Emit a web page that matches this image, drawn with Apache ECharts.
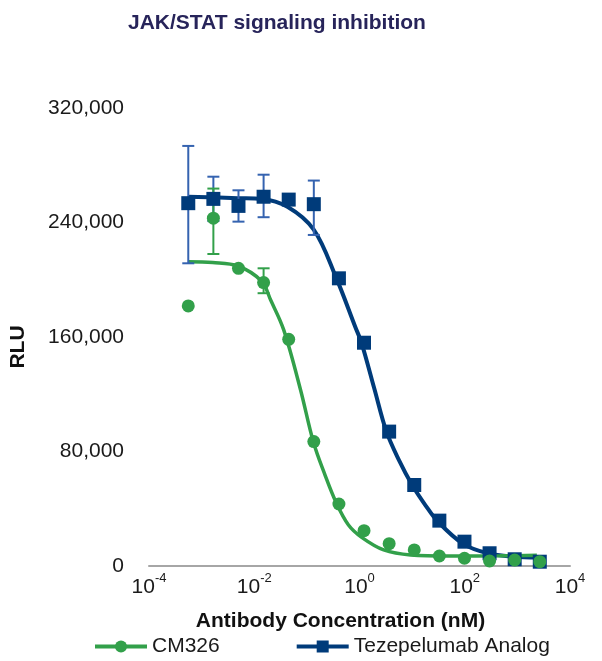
<!DOCTYPE html>
<html>
<head>
<meta charset="utf-8">
<script src="https://cdn.jsdelivr.net/npm/echarts@6/dist/echarts.min.js"></script>
<style>
html,body{margin:0;padding:0;background:#fff;}
#chart{width:602px;height:661px;}
</style>
</head>
<body>
<div id="chart"></div>
<script>
// ---- data ----
const concentrations = [0.0005575, 0.001672, 0.005017, 0.01505, 0.04516, 0.1355, 0.4064, 1.219, 3.658, 10.97, 32.92, 98.77, 296.3, 888.9, 2666.7];
const cm326Values = [181700, 243000, 208000, 198000, 158400, 86900, 43300, 24700, 15600, 11200, 7000, 5400, 3500, 4200, 3000];
const tezeValues = [253500, 256500, 251600, 258000, 256000, 252800, 201000, 156000, 93900, 56600, 31700, 17000, 8900, 4700, 3000];

// error bars: [concentration, low, high]
const cm326ErrX = [0.001672, 0.01505];
const cm326ErrLow = [218000, 190600];
const cm326ErrHigh = [263700, 208000];
const tezeErrX = [0.0005575, 0.001672, 0.005017, 0.01505, 0.1355];
const tezeErrLow = [211500, 241000, 240600, 243700, 231300];
const tezeErrHigh = [293500, 272000, 262500, 273400, 269300];

// fitted curves
const cm326CurveX = [0.00055, 0.00162, 0.0049, 0.0138, 0.0204, 0.0363, 0.0759, 0.132, 0.219, 0.363, 0.617, 1.10, 2.88, 9.33, 53.7, 468, 2344];
const cm326CurveY = [212600, 212000, 209600, 199000, 186000, 165000, 123000, 87000, 64000, 44000, 28600, 20000, 11200, 7700, 7000, 7100, 7500];
const tezeCurveX = [0.00055, 0.0049, 0.0138, 0.0427, 0.135, 0.355, 0.832, 1.10, 1.91, 3.24, 5.62, 10.0, 17.8, 30.9, 93.3, 275, 871, 2455];
const tezeCurveY = [258000, 257000, 256500, 251000, 235000, 202000, 167000, 155600, 124000, 94000, 74000, 56600, 42600, 31000, 15500, 8900, 6500, 6000];

const xTickExponents = [-4, -2, 0, 2, 4];
const yTicks = [0, 80000, 160000, 240000, 320000];

const titleText = 'JAK/STAT signaling inhibition';
const xAxisName = 'Antibody Concentration (nM)';
const yAxisName = 'RLU';
const seriesNames = ['CM326', 'Tezepelumab Analog'];

// ---- styles ----
const GREEN = '#32A04A';
const NAVY = '#003B7A';
const LIGHTBLUE = '#3563B0';
const FONT = '"Liberation Sans", Arial, sans-serif';

function zip(a, b) { return a.map((v, i) => [v, b[i]]); }
function zip3(a, b, c) { return a.map((v, i) => [v, b[i], c[i]]); }

function errRender(color) {
  return function (params, api) {
    const x = api.value(0), lo = api.value(1), hi = api.value(2);
    const pLo = api.coord([x, lo]);
    const pHi = api.coord([x, hi]);
    const hw = 6;
    const st = { stroke: color, lineWidth: 2 };
    return {
      type: 'group',
      children: [
        { type: 'line', shape: { x1: pLo[0], y1: pLo[1], x2: pHi[0], y2: pHi[1] }, style: st },
        { type: 'line', shape: { x1: pHi[0] - hw, y1: pHi[1], x2: pHi[0] + hw, y2: pHi[1] }, style: st },
        { type: 'line', shape: { x1: pLo[0] - hw, y1: pLo[1], x2: pLo[0] + hw, y2: pLo[1] }, style: st }
      ]
    };
  };
}

const chart = echarts.init(document.getElementById('chart'), null, { renderer: 'canvas' });
chart.setOption({
  animation: false,
  backgroundColor: '#ffffff',
  title: {
    text: titleText,
    left: 128,
    top: 13,
    padding: 0,
    textStyle: { fontFamily: FONT, fontSize: 21, fontWeight: 'bold', color: '#27245A' }
  },
  legend: {
    data: seriesNames,
    left: 93,
    top: 636,
    padding: 0,
    itemWidth: 52,
    itemHeight: 15,
    itemGap: 75,
    lineStyle: { width: 4 },
    textStyle: { fontFamily: FONT, fontSize: 21, color: '#1a1a1a' }
  },
  grid: { left: 148, right: 32, top: 108, bottom: 95, containLabel: false },
  xAxis: {
    type: 'log',
    logBase: 10,
    min: 1e-4,
    max: 1e4,
    name: xAxisName,
    nameLocation: 'middle',
    nameGap: 45,
    nameTextStyle: { fontFamily: FONT, fontSize: 21, fontWeight: 'bold', color: '#111', padding: [0, 38, 0, 0] },
    axisLine: { show: true, lineStyle: { color: '#A6A6A6', width: 2 } },
    axisTick: { show: false },
    splitLine: { show: false },
    axisLabel: {
      margin: 6,
      formatter: function (v) {
        const e = Math.round(Math.log10(v));
        if (xTickExponents.indexOf(e) < 0) return '';
        return '{b|10}{s|' + e + '}';
      },
      rich: {
        b: { fontFamily: FONT, fontSize: 21, color: '#1a1a1a', verticalAlign: 'bottom', lineHeight: 26 },
        s: { fontFamily: FONT, fontSize: 13, color: '#1a1a1a', verticalAlign: 'top', lineHeight: 26 }
      }
    }
  },
  yAxis: {
    type: 'value',
    min: 0,
    max: 320000,
    interval: 80000,
    name: yAxisName,
    nameLocation: 'middle',
    nameGap: 120,
    nameTextStyle: { fontFamily: FONT, fontSize: 21, fontWeight: 'bold', color: '#111', padding: [0, 20, 0, 0] },
    axisLine: { show: false },
    axisTick: { show: false },
    splitLine: { show: false },
    axisLabel: {
      margin: 25,
      fontFamily: FONT,
      fontSize: 21,
      color: '#1a1a1a',
      formatter: function (v) { return yTicks.indexOf(v) >= 0 ? v.toLocaleString('en-US') : ''; }
    }
  },
  series: [
    {
      name: seriesNames[1], type: 'line', data: zip(tezeCurveX, tezeCurveY),
      smooth: 0.35, symbol: 'rect', symbolSize: 12, showSymbol: false,
      color: NAVY, lineStyle: { color: NAVY, width: 4 }, itemStyle: { color: NAVY }, z: 2
    },
    {
      name: seriesNames[0], type: 'line', data: zip(cm326CurveX, cm326CurveY),
      smooth: 0.35, symbol: 'circle', symbolSize: 12, showSymbol: false,
      color: GREEN, lineStyle: { color: GREEN, width: 3.5 }, itemStyle: { color: GREEN }, z: 2
    },
    {
      name: 'teze-err', type: 'custom', renderItem: errRender(LIGHTBLUE),
      data: zip3(tezeErrX, tezeErrLow, tezeErrHigh), encode: { x: 0, y: [1, 2] }, z: 3
    },
    {
      name: 'cm326-err', type: 'custom', renderItem: errRender(GREEN),
      data: zip3(cm326ErrX, cm326ErrLow, cm326ErrHigh), encode: { x: 0, y: [1, 2] }, z: 3
    },
    {
      name: 'teze-points', type: 'scatter', data: zip(concentrations, tezeValues),
      symbol: 'rect', symbolSize: 14, itemStyle: { color: NAVY, opacity: 1 }, z: 4
    },
    {
      name: 'cm326-points', type: 'scatter', data: zip(concentrations, cm326Values),
      symbol: 'circle', symbolSize: 13, itemStyle: { color: GREEN, opacity: 1 }, z: 5
    }
  ]
});
</script>
</body>
</html>
